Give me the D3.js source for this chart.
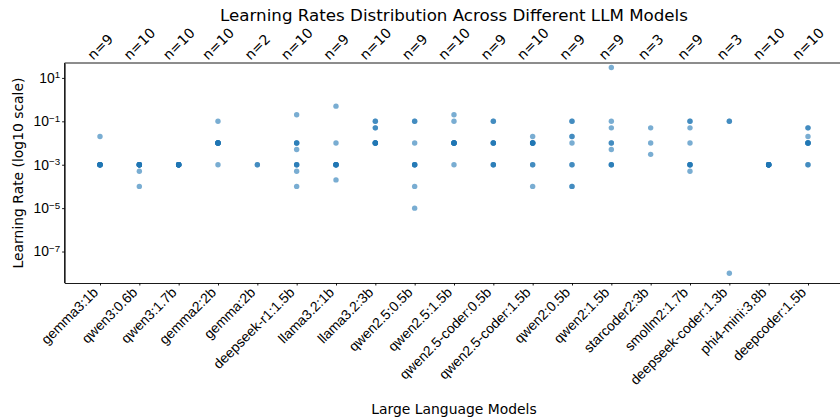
<!DOCTYPE html>
<html>
<head>
<meta charset="utf-8">
<script src="https://cdn.jsdelivr.net/npm/d3@7"></script>
<style>
  body { margin: 0; background: #fff; }
  svg { font-family: "DejaVu Sans", sans-serif; }
  .axis path, .axis line { stroke: #000; stroke-width: 0.9; }
  .axis text { fill: #000; }
</style>
</head>
<body>
<svg id="chart"></svg>
<script>
const models = [
  "gemma3:1b", "qwen3:0.6b", "qwen3:1.7b", "gemma2:2b", "gemma:2b",
  "deepseek-r1:1.5b", "llama3.2:1b", "llama3.2:3b", "qwen2.5:0.5b",
  "qwen2.5:1.5b", "qwen2.5-coder:0.5b", "qwen2.5-coder:1.5b", "qwen2:0.5b",
  "qwen2:1.5b", "starcoder2:3b", "smollm2:1.7b", "deepseek-coder:1.3b",
  "phi4-mini:3.8b", "deepcoder:1.5b"
];

// learning rates, one list per model
const learningRates = [
  [0.02, 0.001, 0.001, 0.001, 0.001, 0.001, 0.001, 0.001, 0.001],
  [0.001, 0.001, 0.001, 0.001, 0.001, 0.001, 0.001, 0.001, 0.0005, 0.0001],
  [0.001, 0.001, 0.001, 0.001, 0.001, 0.001, 0.001, 0.001, 0.001, 0.001],
  [0.1, 0.01, 0.01, 0.01, 0.01, 0.01, 0.01, 0.01, 0.01, 0.001],
  [0.001, 0.001],
  [0.2, 0.01, 0.01, 0.01, 0.005, 0.001, 0.001, 0.001, 0.0005, 0.0001],
  [0.5, 0.01, 0.001, 0.001, 0.001, 0.001, 0.001, 0.001, 0.0002],
  [0.1, 0.1, 0.05, 0.05, 0.01, 0.01, 0.01, 0.01, 0.01, 0.01],
  [0.1, 0.1, 0.01, 0.001, 0.001, 0.001, 0.001, 0.0001, 0.00001],
  [0.2, 0.1, 0.01, 0.01, 0.01, 0.01, 0.01, 0.01, 0.01, 0.001],
  [0.1, 0.1, 0.01, 0.01, 0.01, 0.01, 0.001, 0.001, 0.001],
  [0.02, 0.01, 0.01, 0.01, 0.01, 0.01, 0.01, 0.001, 0.001, 0.0001],
  [0.1, 0.1, 0.02, 0.02, 0.01, 0.001, 0.001, 0.0001, 0.0001],
  [30, 0.1, 0.05, 0.01, 0.01, 0.005, 0.001, 0.001, 0.001],
  [0.05, 0.01, 0.003],
  [0.1, 0.1, 0.05, 0.01, 0.001, 0.001, 0.001, 0.001, 0.0005],
  [0.1, 0.1, 1e-8],
  [0.001, 0.001, 0.001, 0.001, 0.001, 0.001, 0.001, 0.001, 0.001, 0.001],
  [0.05, 0.05, 0.02, 0.01, 0.01, 0.01, 0.01, 0.01, 0.001, 0.001]
];

const yTickExponents = [-7, -5, -3, -1, 1];

const width = 840, height = 419;
const margin = {top: 63, bottom: 136, left: 64.6};
const plotRight = 843.4;  // right spine sits just outside the picture
const fs = 13.9;

const svg = d3.select("#chart").attr("width", width).attr("height", height);

const x = d3.scaleLinear()
  .domain([-0.9, models.length - 1 + 0.9])
  .range([margin.left, plotRight]);

const y = d3.scaleLog()
  .domain([Math.pow(10, -8.45), Math.pow(10, 1.687)])
  .range([height - margin.bottom, margin.top]);

const points = learningRates.flatMap((lrs, i) => lrs.map(lr => ({i, lr})));

svg.append("g")
  .selectAll("circle")
  .data(points)
  .join("circle")
  .attr("cx", d => x(d.i))
  .attr("cy", d => y(d.lr))
  .attr("r", 2.7)
  .attr("fill", "#1f77b4")
  .attr("fill-opacity", 0.6);

// frame
const frame = svg.append("g").attr("fill", "none").attr("stroke", "#000").attr("stroke-width", 0.9);
frame.append("line").attr("x1", margin.left).attr("x2", plotRight)
  .attr("y1", margin.top).attr("y2", margin.top);
frame.append("line").attr("x1", margin.left).attr("x2", margin.left)
  .attr("y1", margin.top).attr("y2", height - margin.bottom);

// bottom axis with rotated model names
const xAxis = svg.append("g")
  .classed("axis", true)
  .attr("transform", `translate(0,${height - margin.bottom})`)
  .call(d3.axisBottom(x)
    .tickValues(d3.range(models.length))
    .tickSize(2.5)
    .tickSizeOuter(0)
    .tickFormat(i => models[i]));
xAxis.selectAll("text")
  .attr("font-size", fs)
  .attr("text-anchor", "end")
  .attr("dy", null)
  .attr("y", null)
  .attr("dominant-baseline", "hanging")
  .attr("transform", "translate(-9,3) rotate(-45)");

// left axis, powers of ten
const yAxis = svg.append("g")
  .classed("axis", true)
  .attr("transform", `translate(${margin.left},0)`)
  .call(d3.axisLeft(y)
    .tickValues(yTickExponents.map(e => Math.pow(10, e)))
    .tickSize(2.5)
    .tickSizeOuter(0)
    .tickFormat(""));
yAxis.selectAll(".tick text").each(function(v) {
  const e = Math.round(Math.log10(v));
  const t = d3.select(this).attr("font-size", fs).attr("x", -4.5).attr("dy", "0.32em");
  t.text("");
  t.append("tspan").text("10");
  t.append("tspan").attr("dy", "-0.45em").attr("font-size", fs * 0.7)
    .text(e < 0 ? "\u2212" + Math.abs(e) : e);
});

// top n= labels, rotated with bbox centred on each position
const nLabels = svg.append("g").attr("font-size", fs);
learningRates.forEach((lrs, i) => {
  const t = nLabels.append("text")
    .attr("text-anchor", "middle")
    .attr("dominant-baseline", "central")
    .text(`n=${lrs.length}`);
  const w = t.node().getComputedTextLength();
  const h = (w + 12) / Math.SQRT2;
  t.attr("transform", `translate(${x(i)},${margin.top - 1.5 - h / 2}) rotate(-45)`);
});

svg.append("text")
  .attr("x", (margin.left + plotRight) / 2)
  .attr("y", 21)
  .attr("text-anchor", "middle")
  .attr("font-size", 16.7)
  .text("Learning Rates Distribution Across Different LLM Models");

svg.append("text")
  .attr("x", (margin.left + plotRight) / 2)
  .attr("y", 414)
  .attr("text-anchor", "middle")
  .attr("font-size", fs)
  .text("Large Language Models");

svg.append("text")
  .attr("transform", `translate(23,${(margin.top + height - margin.bottom) / 2}) rotate(-90)`)
  .attr("text-anchor", "middle")
  .attr("font-size", fs)
  .text("Learning Rate (log10 scale)");
</script>
</body>
</html>
